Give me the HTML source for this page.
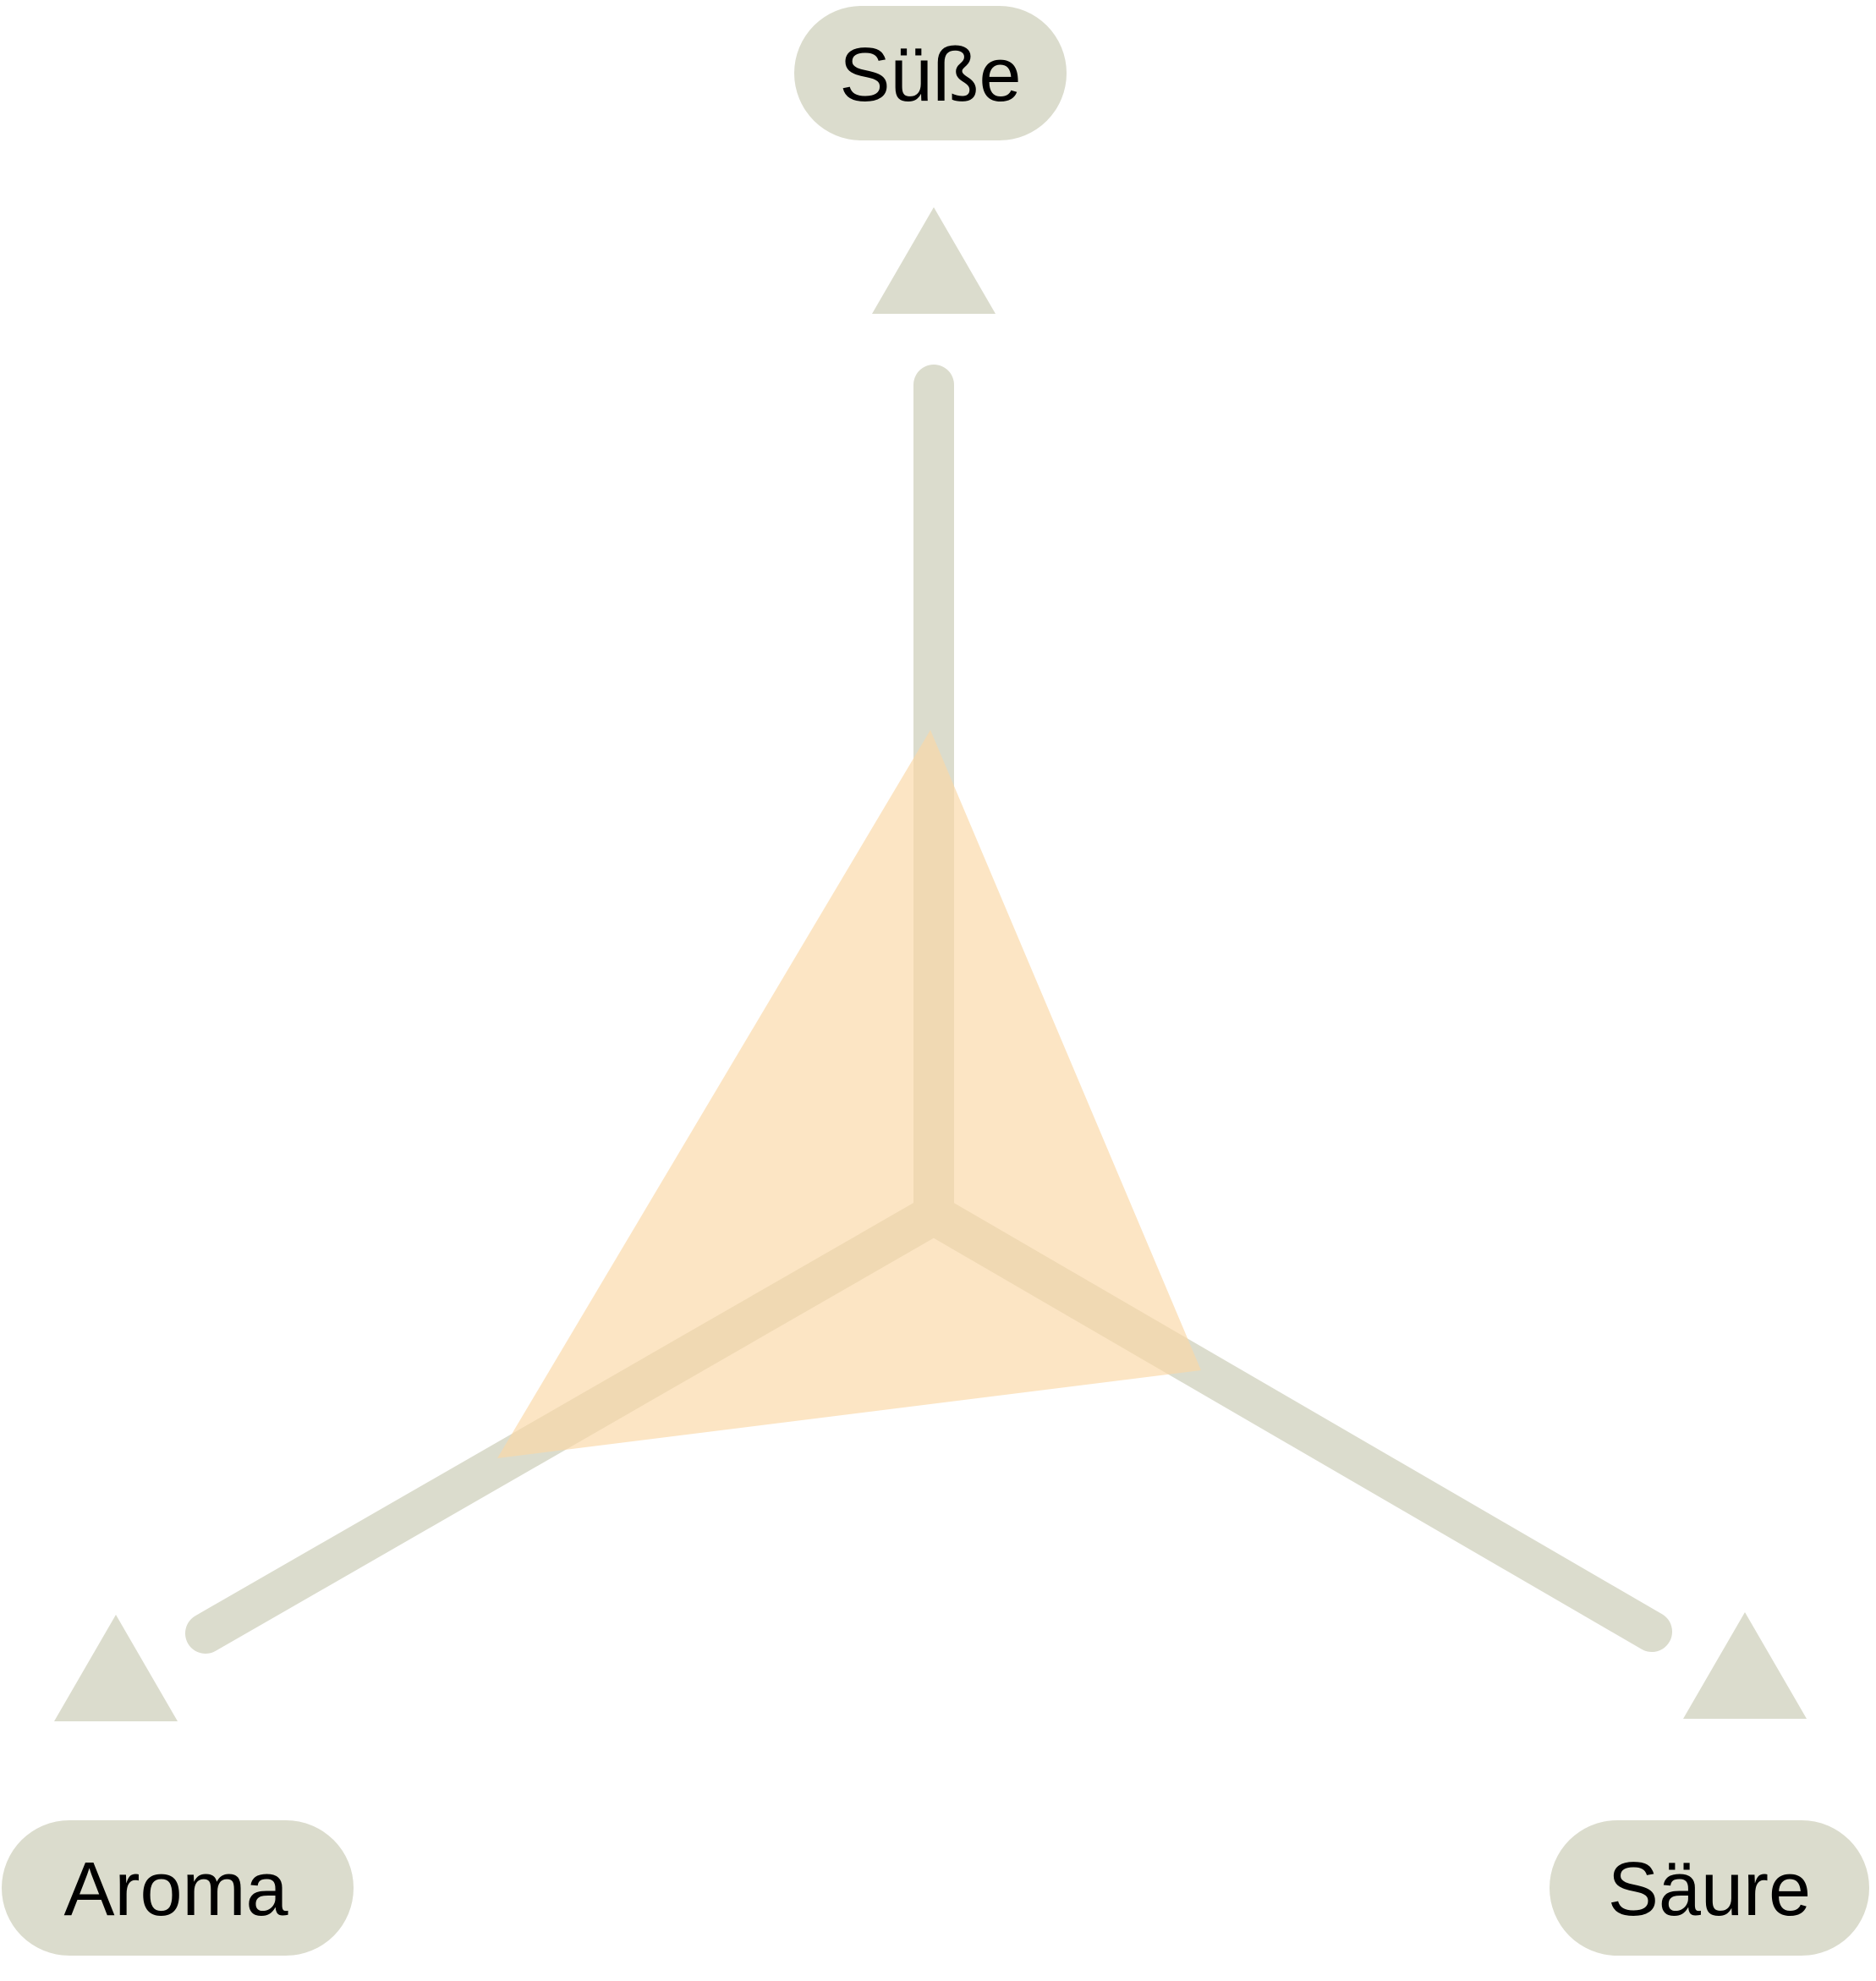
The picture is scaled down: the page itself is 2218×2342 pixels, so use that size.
<!DOCTYPE html>
<html><head><meta charset="utf-8"><style>
html,body{margin:0;padding:0;background:#fff;}
svg{display:block;}
text{font-family:"Liberation Sans",sans-serif;font-size:90px;fill:#000;}
</style></head><body>
<svg width="2218" height="2342" viewBox="0 0 2218 2342" xmlns="http://www.w3.org/2000/svg">
<g fill="#dbdccd">
<rect x="939" y="7" width="322" height="159" rx="79.5"/>
<rect x="2" y="2152" width="416" height="160" rx="80"/>
<rect x="1832" y="2152" width="378" height="160" rx="80"/>
<polygon points="1104,245 1177,371 1031,371"/>
<polygon points="137,1909 210,2035 64,2035"/>
<polygon points="2063,1906 2136,2032 1990,2032"/>
</g>
<g stroke="#dbdccd" stroke-width="48" fill="none">
<line x1="1104" y1="455" x2="1104" y2="1436" stroke-linecap="round"/>
<polyline points="243,1931 1104,1436 1953,1929" stroke-linecap="round" stroke-linejoin="miter"/>
</g>
<polygon points="1100,863 1420,1620 588,1724" fill="rgb(250,216,166)" fill-opacity="0.667"/>
<text x="1100" y="119" text-anchor="middle">Süße</text>
<text x="208" y="2264" text-anchor="middle">Aroma</text>
<text x="2021" y="2264" text-anchor="middle">Säure</text>
</svg>
</body></html>
